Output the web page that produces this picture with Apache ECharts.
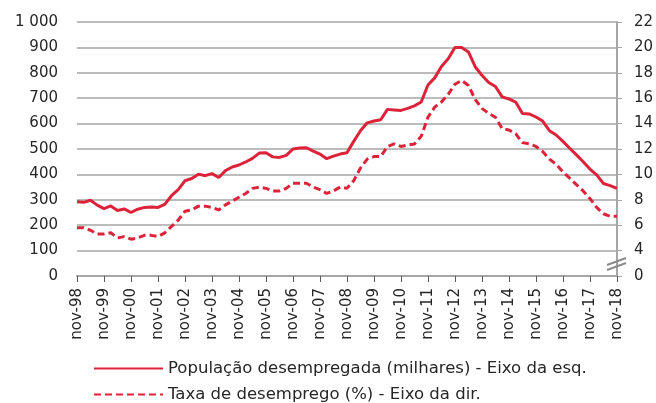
<!DOCTYPE html>
<html>
<head>
    <meta charset="utf-8">
    <title>Desemprego</title>
    <style>
        * { margin: 0; padding: 0; }
        #main { width: 656px; height: 403px; }
    </style>
    <script src="https://cdn.jsdelivr.net/npm/echarts@6/dist/echarts.min.js"></script>
</head>
<body>
    <div id="main"></div>
    <script type="text/javascript">
        // trimestral, de nov-98 a nov-18
        var meses = ['nov', 'fev', 'mai', 'ago'];
        var anoInicial = 1998;
        var anoFinal = 2018;

        // População desempregada (milhares) - eixo esquerdo
        var populacao = [
            292, 290, 298, 279, 265, 276, 258, 264, 250, 263, 270, 272, 270,
            282, 316, 340, 375, 384, 401, 395, 403, 388, 415, 429, 437,
            449, 463, 484, 485, 469, 467, 475, 500, 504, 505, 492, 480,
            462, 472, 480, 485, 530, 572, 603, 610, 615, 656, 654, 652,
            660, 670, 685, 752, 780, 825, 855, 900, 900, 882, 824, 790,
            762, 746, 705, 697, 685, 640, 638, 626, 610, 572, 555, 530,
            503, 477, 450, 421, 398, 364, 356, 345
        ];

        // Taxa de desemprego (%) - eixo direito
        var taxa = [
            5.8, 5.8, 5.6, 5.3, 5.3, 5.4, 5.0, 5.1, 4.9, 5.0, 5.2, 5.2, 5.1,
            5.4, 5.9, 6.4, 7.1, 7.2, 7.5, 7.5, 7.4, 7.2, 7.6, 7.9, 8.2,
            8.5, 8.9, 9.0, 8.9, 8.7, 8.7, 8.9, 9.3, 9.3, 9.3, 9.0, 8.8,
            8.5, 8.7, 9.0, 8.9, 9.5, 10.5, 11.2, 11.4, 11.4, 12.2, 12.4, 12.2,
            12.3, 12.4, 13.0, 14.5, 15.3, 15.7, 16.3, 17.1, 17.4, 17.0, 15.9, 15.2,
            14.8, 14.5, 13.6, 13.5, 13.2, 12.5, 12.4, 12.2, 11.8, 11.2, 10.8, 10.2,
            9.7, 9.2, 8.7, 8.1, 7.4, 6.9, 6.7, 6.7
        ];

        var nomes = [
            'População desempregada (milhares) - Eixo da esq.',
            'Taxa de desemprego (%) - Eixo da dir.'
        ];

        // categorias: nov-98, fev-99, ...
        var categorias = [];
        for (var a = anoInicial; a <= anoFinal; a++) {
            for (var m = 0; m < meses.length; m++) {
                if (a === anoFinal && m > 0) break;
                var ano = (m === 0) ? a : a + 1;
                categorias.push(meses[m] + '-' + String(ano).slice(2));
            }
        }

        var vermelho = '#DC2339';
        var cinza = '#a6a6a6';
        var fonte = 'DejaVu Sans';

        function legenda(nome, topo) {
            return {
                left: 88,
                top: topo,
                itemWidth: 69,
                itemHeight: 14,
                itemGap: 6,
                data: [nome],
                itemStyle: { opacity: 0 },
                textStyle: { fontFamily: fonte, fontSize: 16.5, color: '#262626' }
            };
        }

        var chart = echarts.init(document.getElementById('main'));

        var option = {
            animation: false,
            textStyle: { fontFamily: fonte },
            grid: { left: 77, right: 37, top: 22, bottom: 127 },
            legend: [legenda(nomes[0], 355), legenda(nomes[1], 381)],
            xAxis: {
                type: 'category',
                data: categorias,
                boundaryGap: false,
                axisLine: { lineStyle: { color: cinza, width: 2 } },
                axisTick: { interval: 3, length: 6, lineStyle: { color: '#595959', width: 1 } },
                axisLabel: {
                    interval: 3,
                    rotate: 90,
                    margin: 12,
                    fontSize: 15,
                    color: '#262626',
                    fontFamily: fonte
                },
                splitLine: { show: false }
            },
            yAxis: [{
                type: 'value',
                min: 0,
                max: 1000,
                interval: 100,
                axisLine: { show: false },
                axisTick: { show: false },
                axisLabel: {
                    margin: 19,
                    fontSize: 15,
                    color: '#262626',
                    fontFamily: fonte,
                    formatter: function (v) {
                        return v >= 1000 ? '1 000' : String(v);
                    }
                },
                splitLine: { lineStyle: { color: cinza, width: 1.5 } }
            }, {
                type: 'value',
                position: 'right',
                min: 2,
                max: 22,
                interval: 2,
                axisLine: { show: true, lineStyle: { color: cinza, width: 2 } },
                axisTick: { show: true, length: 5, lineStyle: { color: cinza } },
                axisLabel: {
                    margin: 17,
                    fontSize: 15,
                    color: '#262626',
                    fontFamily: fonte,
                    formatter: function (v) {
                        // o eixo tem quebra: a base representa 0
                        return v === 2 ? '0' : String(v);
                    }
                },
                splitLine: { show: false }
            }],
            series: [{
                name: nomes[0],
                type: 'line',
                yAxisIndex: 0,
                data: populacao,
                symbol: 'none',
                lineStyle: { color: vermelho, width: 3 },
                itemStyle: { color: vermelho }
            }, {
                name: nomes[1],
                type: 'line',
                yAxisIndex: 1,
                data: taxa,
                symbol: 'none',
                lineStyle: { color: vermelho, width: 3, type: [7, 4] },
                itemStyle: { color: vermelho }
            }],
            graphic: [{
                type: 'line',
                shape: { x1: 607, y1: 265, x2: 626, y2: 258 },
                style: { stroke: '#8c8c8c', lineWidth: 2 },
                z: 100
            }, {
                type: 'line',
                shape: { x1: 607, y1: 270, x2: 626, y2: 263 },
                style: { stroke: '#8c8c8c', lineWidth: 2 },
                z: 100
            }]
        };

        chart.setOption(option);
    </script>
</body>
</html>
